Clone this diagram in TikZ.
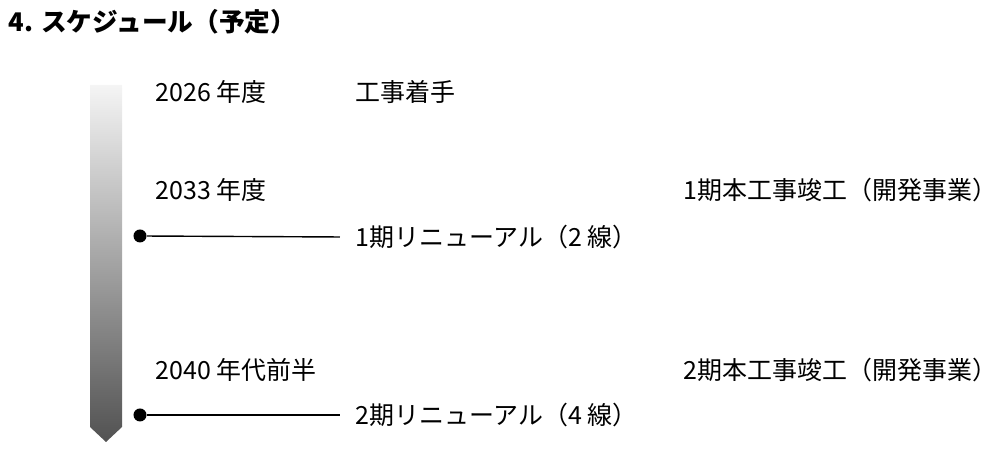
\documentclass[tikz,border=0pt]{standalone}
\usepackage{fontspec}
\setmainfont{Noto Sans CJK JP}
\begin{document}
\begin{tikzpicture}[x=0.01cm,y=-0.01cm,
  lbl/.style={anchor=west,inner sep=0pt,font=\fontsize{7.1}{9}\selectfont},
  dot/.style={circle,fill=black,inner sep=0pt,minimum size=0.13cm}]
\useasboundingbox (0,0) rectangle (1000,468);
\shade[top color=black!4,bottom color=black!68] (90,85) -- (122,85) -- (122,427) -- (106,442) -- (90,427) -- cycle;
\node[lbl,font=\fontsize{7.3}{9}\selectfont\bfseries] (title) at (8,22) {4. スケジュール（予定）};
\node[lbl] (y1) at (155,92) {2026 年度};
\node[lbl] (t1) at (355,92) {工事着手};
\node[lbl] (y2) at (155,190) {2033 年度};
\node[lbl] (k1) at (683,190) {1期本工事竣工（開発事業）};
\node[lbl] (y3) at (155,370) {2040 年代前半};
\node[lbl] (k2) at (683,370) {2期本工事竣工（開発事業）};
\node[dot] (d1) at (140,236) {};
\node[dot] (d2) at (140,415) {};
\node[lbl] (r1) at (355,237) {1期リニューアル（2 線）};
\node[lbl] (r2) at (355,415) {2期リニューアル（4 線）};
\draw[line width=0.4pt] (d1) -- ([xshift=-0.15cm]r1.west);
\draw[line width=0.4pt] (d2) -- ([xshift=-0.15cm]r2.west);
\end{tikzpicture}
\end{document}
